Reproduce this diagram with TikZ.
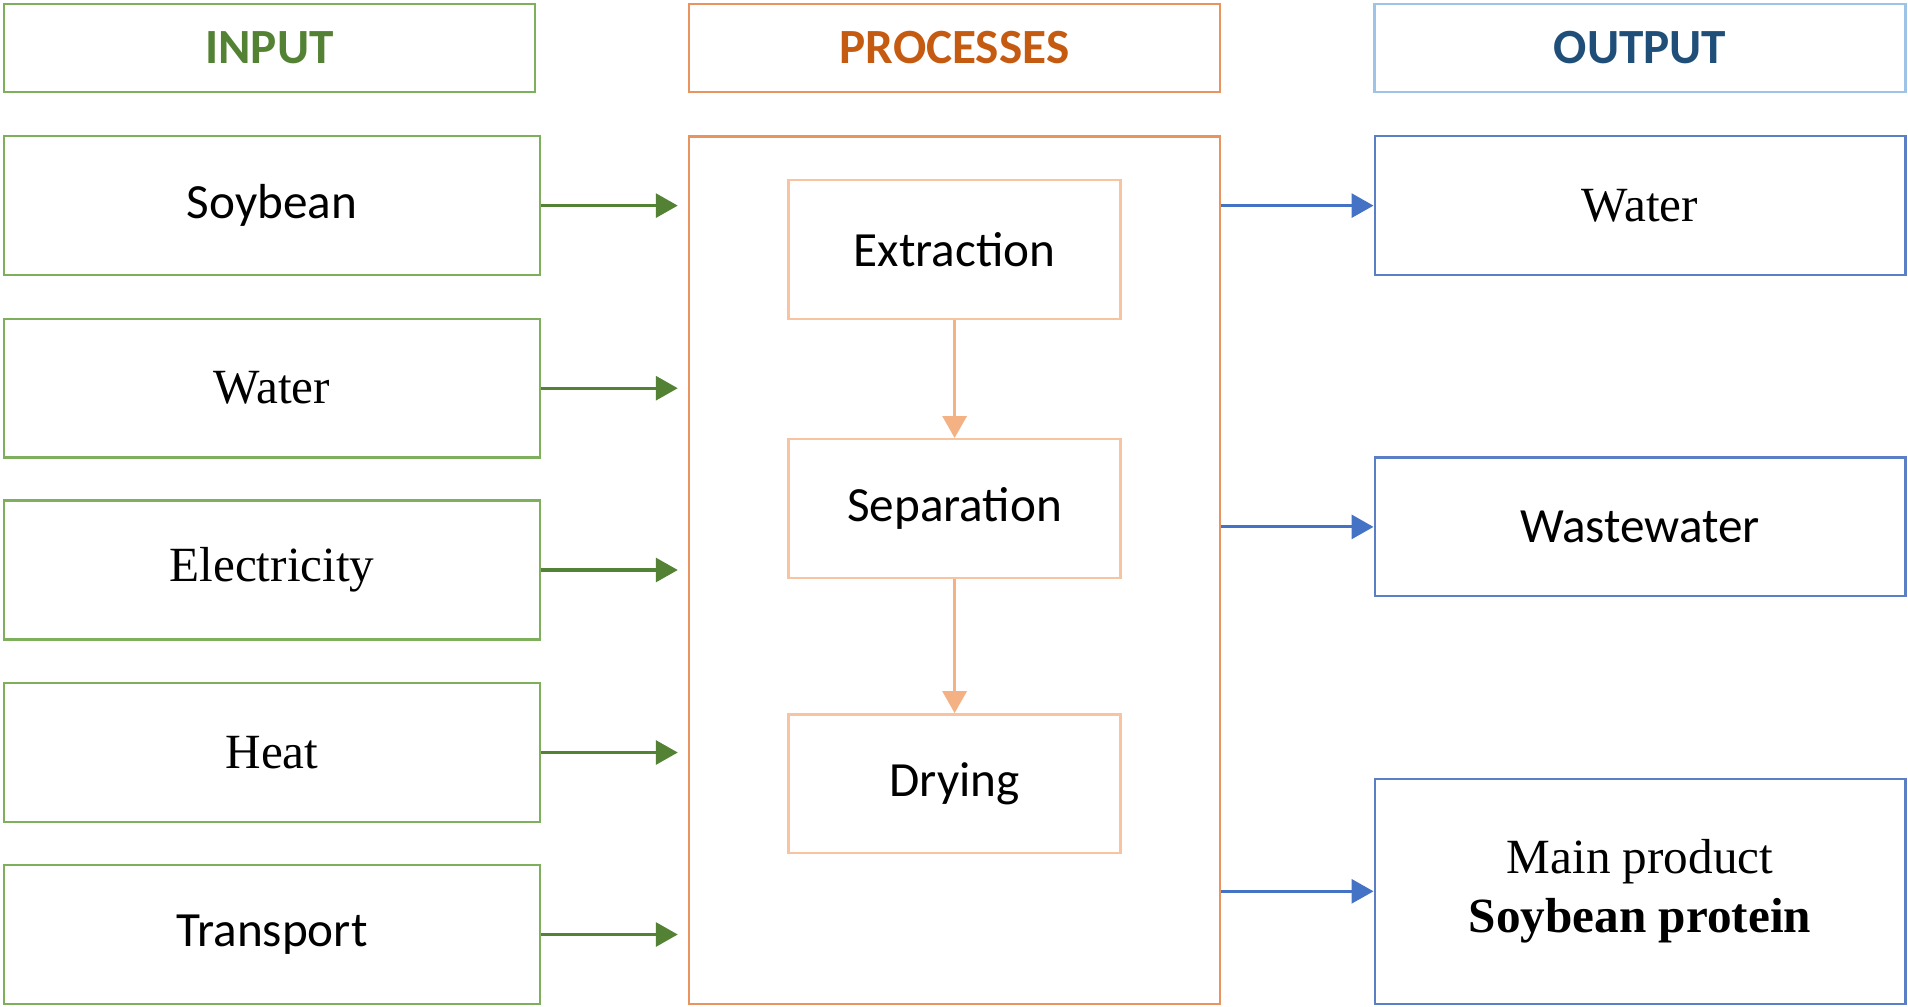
\documentclass[tikz,border=0pt]{standalone}
\usepackage{fontspec}
\setmainfont{Liberation Serif}
\newfontfamily\calibri{Carlito}
\usetikzlibrary{arrows.meta}

\definecolor{ingreen}{HTML}{548235}
\definecolor{inline}{HTML}{7DAF5C}
\definecolor{proctext}{HTML}{C55A11}
\definecolor{procline}{HTML}{E9935F}
\definecolor{stepline}{HTML}{F8C3A0}
\definecolor{steparrow}{HTML}{F4B183}
\definecolor{outtext}{HTML}{1F4E79}
\definecolor{outline}{HTML}{5B7FC4}
\definecolor{outhead}{HTML}{9DC3E6}
\definecolor{outarrow}{HTML}{4472C4}

\begin{document}
\begin{tikzpicture}[
	font=\fontsize{14}{17}\selectfont,
	box/.style={draw, line width=0.7pt, inner sep=0pt, align=center},
	head/.style={box, minimum width=53.1mm, minimum height=8.85mm, font=\calibri\bfseries\fontsize{14}{17}\selectfont},
	inbox/.style={box, draw=inline, minimum width=53.6mm, minimum height=13.87mm},
	outbox/.style={box, draw=outline, minimum width=53.05mm, minimum height=13.87mm},
	stepbox/.style={box, draw=stepline, minimum width=33.2mm, minimum height=13.87mm, font=\calibri\fontsize{14}{17}\selectfont},
	flow/.style={line width=0.9pt, -{Triangle[length=2.2mm, width=2.4mm]}}
]
\useasboundingbox (0,0) rectangle (19.08,10.06);

% Cabeceras
\node[head, draw=inline, text=ingreen] (hin) at (2.695,9.58) {INPUT};
\node[head, draw=procline, text=proctext] (hproc) at (9.545,9.58) {PROCESSES};
\node[head, draw=outhead, text=outtext] (hout) at (16.40,9.58) {OUTPUT};

% Procesos
\node[box, draw=procline, minimum width=53.1mm, minimum height=86.76mm] (proc) at (9.545,4.359) {};
\node[stepbox] (ext) at (9.546,7.565) {Extraction};
\node[stepbox] (sep) at (9.546,4.974) {Separation};
\node[stepbox] (dry) at (9.546,2.223) {Drying};

\draw[flow, draw=steparrow, fill=steparrow] (ext) -- (sep);
\draw[flow, draw=steparrow, fill=steparrow] (sep) -- (dry);

% Entradas
\foreach \txt/\y [count=\i] in {{\calibri Soybean}/8.004, Water/6.178, Electricity/4.36, Heat/2.535, {\calibri Transport}/0.715}
	\node[inbox] (in\i) at (2.72,\y) {\txt};

\foreach \i in {1,...,5}
	\draw[flow, draw=ingreen, fill=ingreen, shorten >=1mm] (in\i.east) -- (in\i.east -| proc.west);

% Salidas
\node[outbox] (out1) at (16.40,8.004) {Water};
\node[outbox, font=\calibri\fontsize{14}{17}\selectfont] (out2) at (16.40,4.791) {Wastewater};
\node[outbox, minimum height=22.51mm] (out3) at (16.40,1.147) {Main product\\\textbf{Soybean protein}};

\foreach \i in {1,2,3}
	\draw[flow, draw=outarrow, fill=outarrow] (proc.east |- out\i.west) -- (out\i.west);
\end{tikzpicture}
\end{document}
